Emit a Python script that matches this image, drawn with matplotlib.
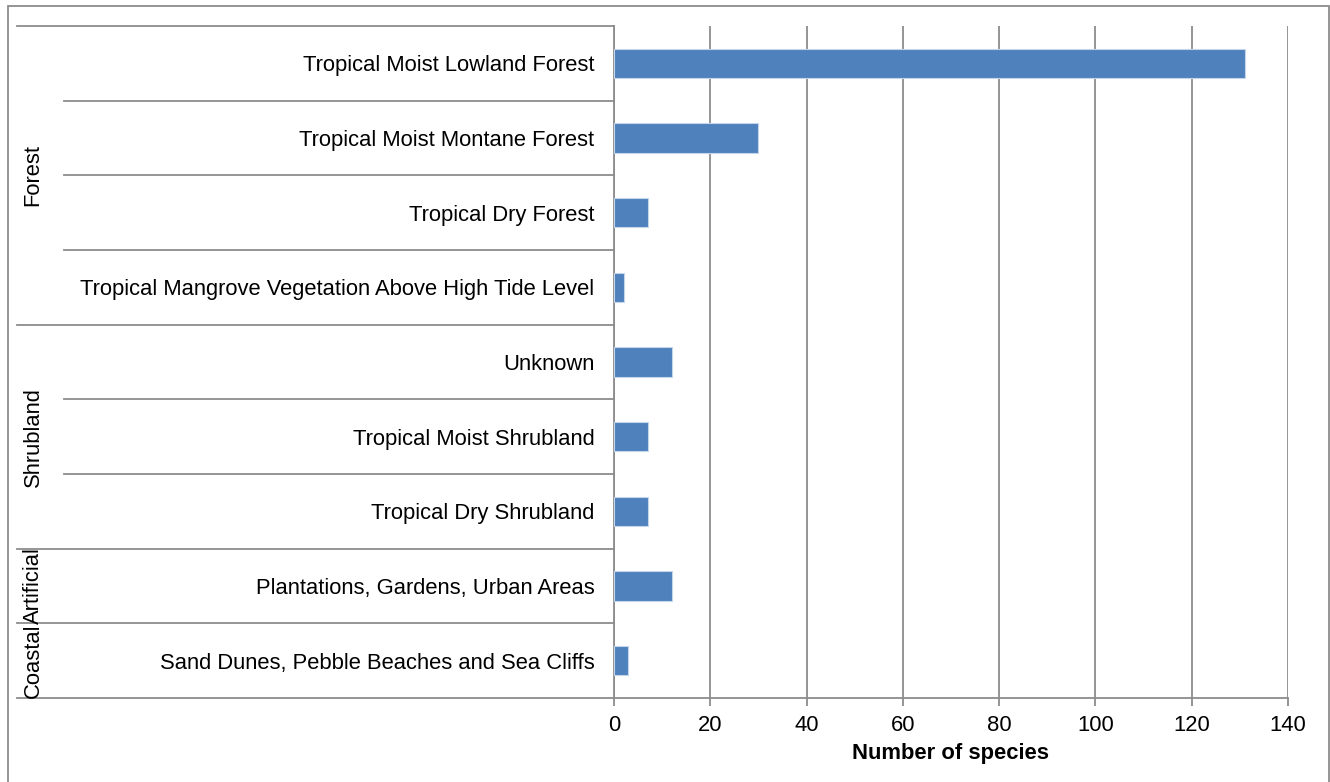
import matplotlib.pyplot as plt
from matplotlib.patches import Rectangle

plt.rcParams['font.family'] = ['Liberation Sans', 'DejaVu Sans']

habitats = ['Tropical Moist Lowland Forest', 'Tropical Moist Montane Forest',
            'Tropical Dry Forest', 'Tropical Mangrove Vegetation Above High Tide Level',
            'Unknown', 'Tropical Moist Shrubland', 'Tropical Dry Shrubland',
            'Plantations, Gardens, Urban Areas', 'Sand Dunes, Pebble Beaches and Sea Cliffs']
species = [131, 30, 7, 2, 12, 7, 7, 12, 3]
groups = ['Forest', 'Shrubland', 'Artificial', 'Coastal']
group_sizes = [4, 3, 1, 1]

W, H = 1330, 782
fig = plt.figure(figsize=(W / 100, H / 100), dpi=100)
ax = fig.add_axes([614 / W, 1 - 698 / H, (1288 - 614) / W, (698 - 26) / H])

grey = '#8c8c8c'
fs = 15.8
ypos = list(range(len(habitats)))
ax.barh(ypos, species, height=0.39, color='#4f81bd', edgecolor='#c5d5ea', linewidth=0.8, zorder=3)
ax.set_xlim(0, 140)
ax.set_ylim(len(habitats) - 0.5, -0.5)
ax.set_xticks(range(0, 141, 20))
ax.grid(axis='x', color=grey, linewidth=1.3, zorder=0)
ax.set_yticks(ypos)
ax.set_yticklabels(habitats, fontsize=fs)
ax.tick_params(axis='y', length=0, pad=14)
ax.tick_params(axis='x', labelsize=fs, length=6, color=grey, width=1.3, pad=6)
for s in ['top', 'right']:
    ax.spines[s].set_visible(False)
for s in ['left', 'bottom']:
    ax.spines[s].set_color(grey)
    ax.spines[s].set_linewidth(1.3)
ax.set_xlabel('Number of species', fontsize=fs, fontweight='bold', labelpad=5)

# category separators on the left
tr = ax.get_yaxis_transform()
x_inner = (64 - 614) / (1288 - 614)
x_outer = (17 - 614) / (1288 - 614)
x_group = (33 - 614) / (1288 - 614)
bounds = [0]
for n in group_sizes:
    bounds.append(bounds[-1] + n)
for i in range(len(habitats) + 1):
    x0 = x_outer if i in bounds else x_inner
    ax.plot([x0, 0], [i - 0.5, i - 0.5], transform=tr, color=grey, lw=1.3, clip_on=False)
for g, a, b in zip(groups, bounds[:-1], bounds[1:]):
    ax.text(x_group, (a + b - 1) / 2, g, transform=tr, rotation=90, fontsize=fs,
            ha='center', va='center')

fig.patches.append(Rectangle((8 / W, -0.01), (1329 - 8) / W, 1.01 - 6 / H, transform=fig.transFigure,
                             fill=False, edgecolor='#8c8c8c', linewidth=1.3))

fig.savefig('out.png', dpi=100)
